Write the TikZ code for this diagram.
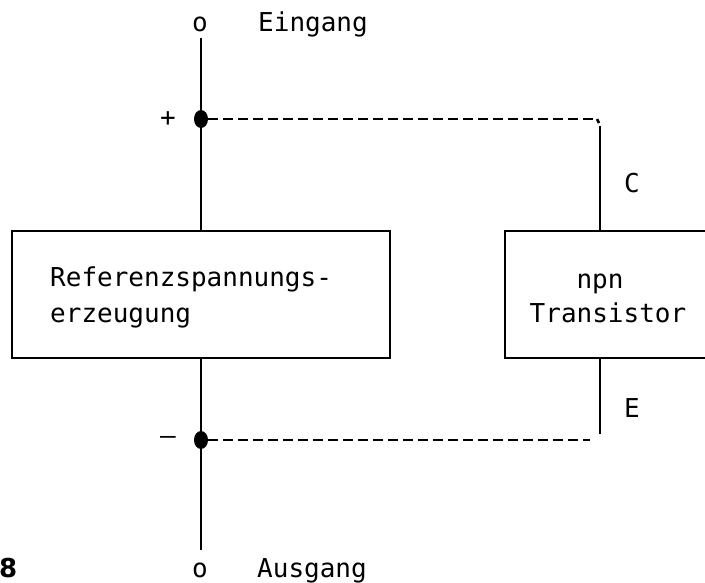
\documentclass[tikz,border=0pt]{standalone}
\usepackage{fontspec}
\setmonofont{DejaVu Sans Mono}
\setsansfont{DejaVu Sans}
\usetikzlibrary{shapes.geometric}
\begin{document}
\begin{tikzpicture}[x=1pt,y=-1pt,
  lbl/.style={font=\ttfamily\fontsize{26}{35}\selectfont, inner sep=0pt},
  blk/.style={draw, line width=2.6pt, minimum height=127pt, inner sep=0pt},
  wire/.style={line width=2.6pt},
  link/.style={line width=2.6pt, dash pattern=on 10pt off 5pt},
  junction/.style={ellipse, fill, draw=none, minimum width=14pt, minimum height=18pt, inner sep=0pt}
]
\path[use as bounding box] (0,0) rectangle (705,583);
\clip (0,0) rectangle (705,583);

% blocks
\node[blk, minimum width=378pt] (ref) at (201,294.5) {};
\node[blk, minimum width=215pt] (trans) at (612.5,294.5) {};

% block texts
\node[lbl, anchor=base west] (reftxt1) at (50,287) {Referenzspannungs-};
\node[lbl, anchor=base west] (reftxt2) at (50,322) {erzeugung};
\node[lbl, anchor=base] (ttxt1) at (600,288) {npn};
\node[lbl, anchor=base] (ttxt2) at (608,322) {Transistor};

% main supply line with terminals
\node[lbl, anchor=base] (oin) at (200,32) {o};
\node[lbl, anchor=base west] (ein) at (258,32) {Eingang};
\node[lbl, anchor=base] (oout) at (200,577) {o};
\node[lbl, anchor=base west] (aus) at (257,577) {Ausgang};
\coordinate (in) at (201,38);
\coordinate (out) at (201,550);
\draw[wire] (in) -- (ref.north);
\draw[wire] (ref.south) -- (out);

% junctions
\node[junction] (plus) at (201,119) {};
\node[junction] (minus) at (201,440) {};
\node[lbl, anchor=center] (plussign) at (168,119) {+};
\node[lbl, anchor=center] (minussign) at (168,440) {–};

% collector connection
\coordinate (cjoin) at (597,119);
\coordinate (ctop) at (600,126);
\draw[link] (plus) -- (cjoin);
\draw[wire] (597,119) -- (599,123);
\draw[wire] (ctop) -- (ctop |- trans.north);
\node[lbl, anchor=base] (clab) at (632,193) {C};

% emitter connection
\coordinate (ebot) at (600,434);
\coordinate (ejoin) at (590,440);
\draw[wire] (ebot |- trans.south) -- (ebot);
\draw[link] (minus) -- (ejoin);
\node[lbl, anchor=base] (elab) at (632,417) {E};

% figure number fragment
\node[font=\sffamily\bfseries\fontsize{26}{30}\selectfont, inner sep=0pt, anchor=base west] (fig) at (-1,577) {8};
\end{tikzpicture}
\end{document}
